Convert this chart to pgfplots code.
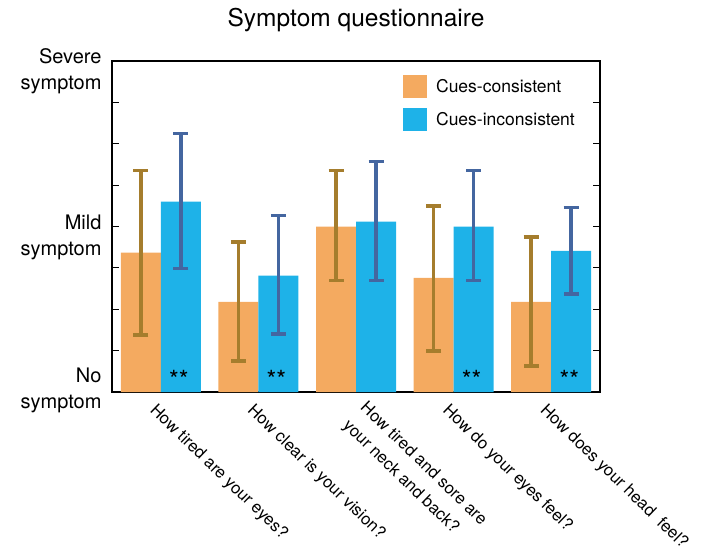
\documentclass[border=0pt]{standalone}
\usepackage{fontspec}
\setmainfont{TeX Gyre Heros}
\usepackage{pgfplots}
\usepackage{pgfplotstable}
\pgfplotsset{compat=1.18}
\definecolor{barorange}{RGB}{244,170,96}
\definecolor{barblue}{RGB}{30,178,232}
\definecolor{errorange}{RGB}{165,125,45}
\definecolor{errblue}{RGB}{68,102,160}
\pgfplotstableread{
x o op om b bp bm
0 3.37 1.98 1.99 4.60 1.65 1.62
1 2.18 1.45 1.43 2.81 1.45 1.41
2 4.00 1.35 1.31 4.12 1.45 1.43
3 2.76 1.74 1.77 4.00 1.35 1.31
4 2.18 1.57 1.55 3.41 1.05 1.04
}\datatable
\newcommand{\rlab}[1]{\begin{tabular}{@{}r@{}}#1\end{tabular}}
\begin{document}
\begin{tikzpicture}
\useasboundingbox (0pt,0pt) rectangle (704pt,555pt);
\begin{axis}[
  at={(112pt,163pt)}, anchor=south west,
  scale only axis, width=488pt, height=331pt,
  xmin=-0.5, xmax=4.5, ymin=0, ymax=8,
  axis line style={line width=2.5pt},
  ybar, bar width=40pt,
  xtick={0,1,2,3,4},
  xticklabels={{How tired are your eyes?},{How clear is your vision?},{\hspace*{9pt}How tired and sore are\\[2.5pt]\hspace*{9pt}your neck and back?},{How do your eyes feel?},{How does your head\ \ feel?}},
  x tick style={draw=none},
  xticklabel style={xshift=-11pt, yshift=-14pt, rotate=-44, anchor=west, align=left, font=\fontsize{16.7}{22.5}\selectfont},
  ytick={0,1,2,3,4,5,6,7,8},
  yticklabels={{\rlab{No\\[3pt]symptom}\rule[-44pt]{0pt}{1pt}},{},{},{},{\rlab{Mild\\[3pt]symptom}},{},{},{},{\rlab{Severe\\[3pt]symptom}}},
  yticklabel style={font=\fontsize{20}{23}\selectfont, yshift=-11pt, xshift=-7pt},
  ytick pos=both, yticklabel pos=left,
  tick align=inside, major tick length=7pt,
  y tick style={line width=0.8pt, black},
  title={Symptom questionnaire},
  title style={font=\fontsize{24.5}{28}\selectfont, at={(0.5,1)}, anchor=south, yshift=20pt},
  legend style={draw=none, fill=none, at={(0.59,0.965)}, anchor=north west,
    font=\fontsize{17.5}{20}\selectfont, row sep=10pt, column sep=7pt},
  legend cell align=left,
  legend image code/.code={\fill[#1] (0pt,-11.5pt) rectangle (24pt,11.5pt);},
  error bars/y dir=both, error bars/y explicit,
]
\addplot[fill=barorange, draw=none, bar shift=-20pt,
  error bars/error bar style={line width=3.5pt, errorange},
  error bars/error mark options={rotate=90, mark size=7.5pt, line width=3.5pt, errorange}]
  table[x=x, y=o, y error plus=op, y error minus=om] {\datatable};
\addplot[fill=barblue, draw=none, bar shift=20pt,
  error bars/error bar style={line width=3.5pt, errblue},
  error bars/error mark options={rotate=90, mark size=7.5pt, line width=3.5pt, errblue}]
  table[x=x, y=b, y error plus=bp, y error minus=bm] {\datatable};
\legend{Cues-consistent, Cues-inconsistent}
\node[font=\fontsize{25}{26}\selectfont, anchor=base] at (axis cs:0.185,0.08) {**};
\node[font=\fontsize{25}{26}\selectfont, anchor=base] at (axis cs:1.185,0.08) {**};
\node[font=\fontsize{25}{26}\selectfont, anchor=base] at (axis cs:3.185,0.08) {**};
\node[font=\fontsize{25}{26}\selectfont, anchor=base] at (axis cs:4.185,0.08) {**};
\end{axis}
\end{tikzpicture}
\end{document}
